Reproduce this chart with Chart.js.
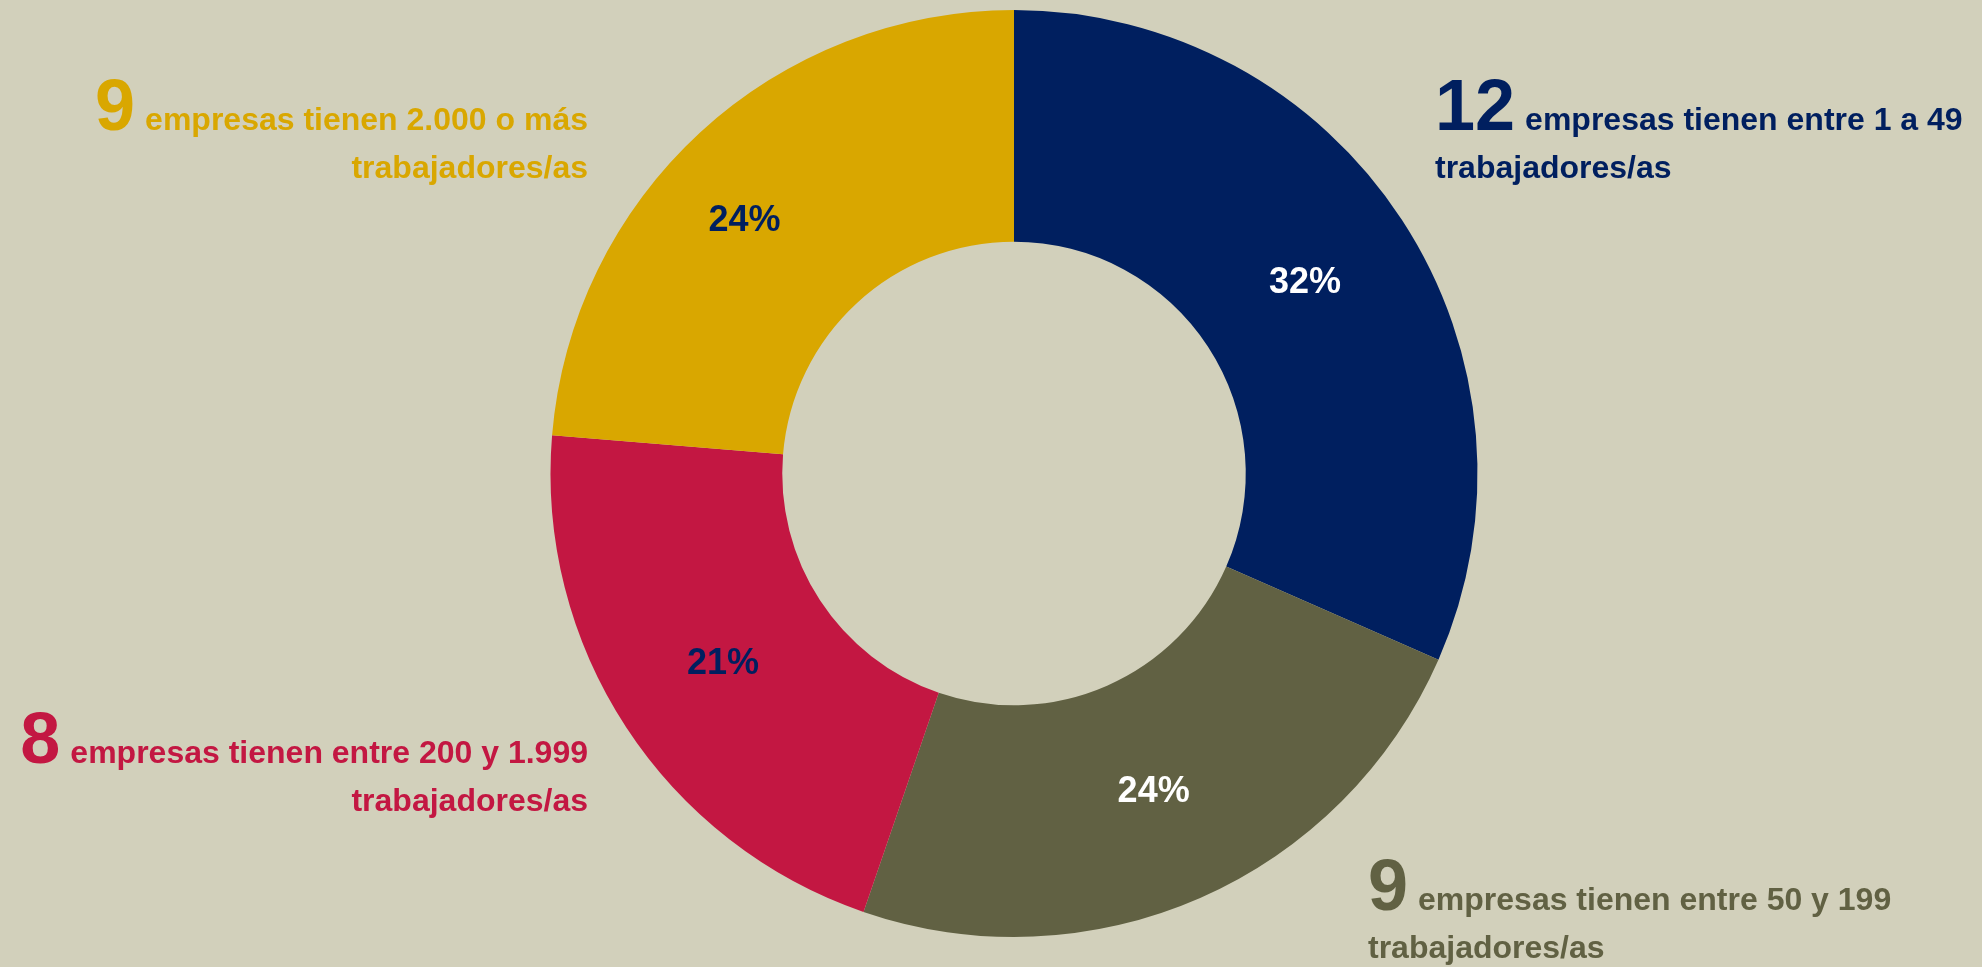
<!DOCTYPE html>
<html lang="es">
<head>
<meta charset="utf-8">
<title>Empresas según número de trabajadores/as</title>
<script src="https://cdn.jsdelivr.net/npm/chart.js@4/dist/chart.umd.min.js"></script>
<style>
  html, body {
    margin: 0;
    padding: 0;
    background: #D2D0BB;
    overflow: hidden;
  }
  #grafico {
    display: block;
  }
</style>
</head>
<body>
<canvas id="grafico" width="1982" height="967"></canvas>
<script>
// tramos de tamaño y cantidad de empresas en cada uno
const tramos = ['entre 1 a 49', 'entre 50 y 199', 'entre 200 y 1.999', '2.000 o más'];
const empresas = [12, 9, 8, 9];
const colores = ['#001F5F', '#616143', '#C31742', '#D9A700'];
const coloresPorcentaje = ['#FFFFFF', '#FFFFFF', '#001F5F', '#001F5F'];

// donde va cada texto explicativo (x, linea base, alineacion)
const notas = [
  { x: 1435, y: 130, lado: 'izq' },
  { x: 1368, y: 910, lado: 'izq' },
  { x: 588, y: 763, lado: 'der' },
  { x: 588, y: 130, lado: 'der' }
];
// pequeño corrimiento del porcentaje respecto al centro del sector
const corrimientos = [
  { dx: 0, dy: 0 },
  { dx: 0, dy: 0 },
  { dx: 0, dy: 0 },
  { dx: -34, dy: 3 }
];

const FUENTE = '"Liberation Sans", Arial, sans-serif';

const total = empresas.reduce((acc, v) => acc + v, 0);

// porcentaje dentro de cada sector
const porcentajesPlugin = {
  id: 'porcentajes',
  afterDatasetsDraw(chart) {
    const ctx = chart.ctx;
    const meta = chart.getDatasetMeta(0);
    ctx.save();
    ctx.font = 'bold 36px ' + FUENTE;
    ctx.textAlign = 'center';
    ctx.textBaseline = 'middle';
    meta.data.forEach((arc, i) => {
      const pos = arc.tooltipPosition();
      ctx.fillStyle = coloresPorcentaje[i];
      ctx.fillText(Math.round(empresas[i] / total * 100) + '%',
        pos.x + corrimientos[i].dx, pos.y + corrimientos[i].dy);
    });
    ctx.restore();
  }
};

// "N empresas tienen ..." junto a cada sector
const notasPlugin = {
  id: 'notas',
  afterDraw(chart) {
    const ctx = chart.ctx;
    ctx.save();
    ctx.textBaseline = 'alphabetic';
    notas.forEach((n, i) => {
      const numero = String(empresas[i]);
      const linea1 = 'empresas tienen ' + tramos[i];
      const linea2 = 'trabajadores/as';
      ctx.fillStyle = colores[i];

      ctx.font = 'bold 72px ' + FUENTE;
      const anchoNum = ctx.measureText(numero).width;
      ctx.font = 'bold 32px ' + FUENTE;
      const ancho1 = ctx.measureText(linea1).width;
      const gap = 10;

      if (n.lado === 'izq') {
        ctx.textAlign = 'left';
        ctx.font = 'bold 72px ' + FUENTE;
        ctx.fillText(numero, n.x, n.y);
        ctx.font = 'bold 32px ' + FUENTE;
        ctx.fillText(linea1, n.x + anchoNum + gap, n.y);
        ctx.fillText(linea2, n.x, n.y + 48);
      } else {
        ctx.textAlign = 'right';
        ctx.font = 'bold 32px ' + FUENTE;
        ctx.fillText(linea1, n.x, n.y);
        ctx.fillText(linea2, n.x, n.y + 48);
        ctx.font = 'bold 72px ' + FUENTE;
        ctx.fillText(numero, n.x - ancho1 - gap, n.y);
      }
    });
    ctx.restore();
  }
};

new Chart(document.getElementById('grafico'), {
  type: 'doughnut',
  data: {
    labels: tramos,
    datasets: [{
      data: empresas,
      backgroundColor: colores,
      borderWidth: 0,
      hoverOffset: 0
    }]
  },
  options: {
    responsive: false,
    devicePixelRatio: 1,
    animation: false,
    cutout: '50%',
    layout: {
      padding: { top: 10, bottom: 30, left: 46, right: 0 }
    },
    plugins: {
      legend: { display: false },
      tooltip: { enabled: false }
    }
  },
  plugins: [porcentajesPlugin, notasPlugin]
});
</script>
</body>
</html>
